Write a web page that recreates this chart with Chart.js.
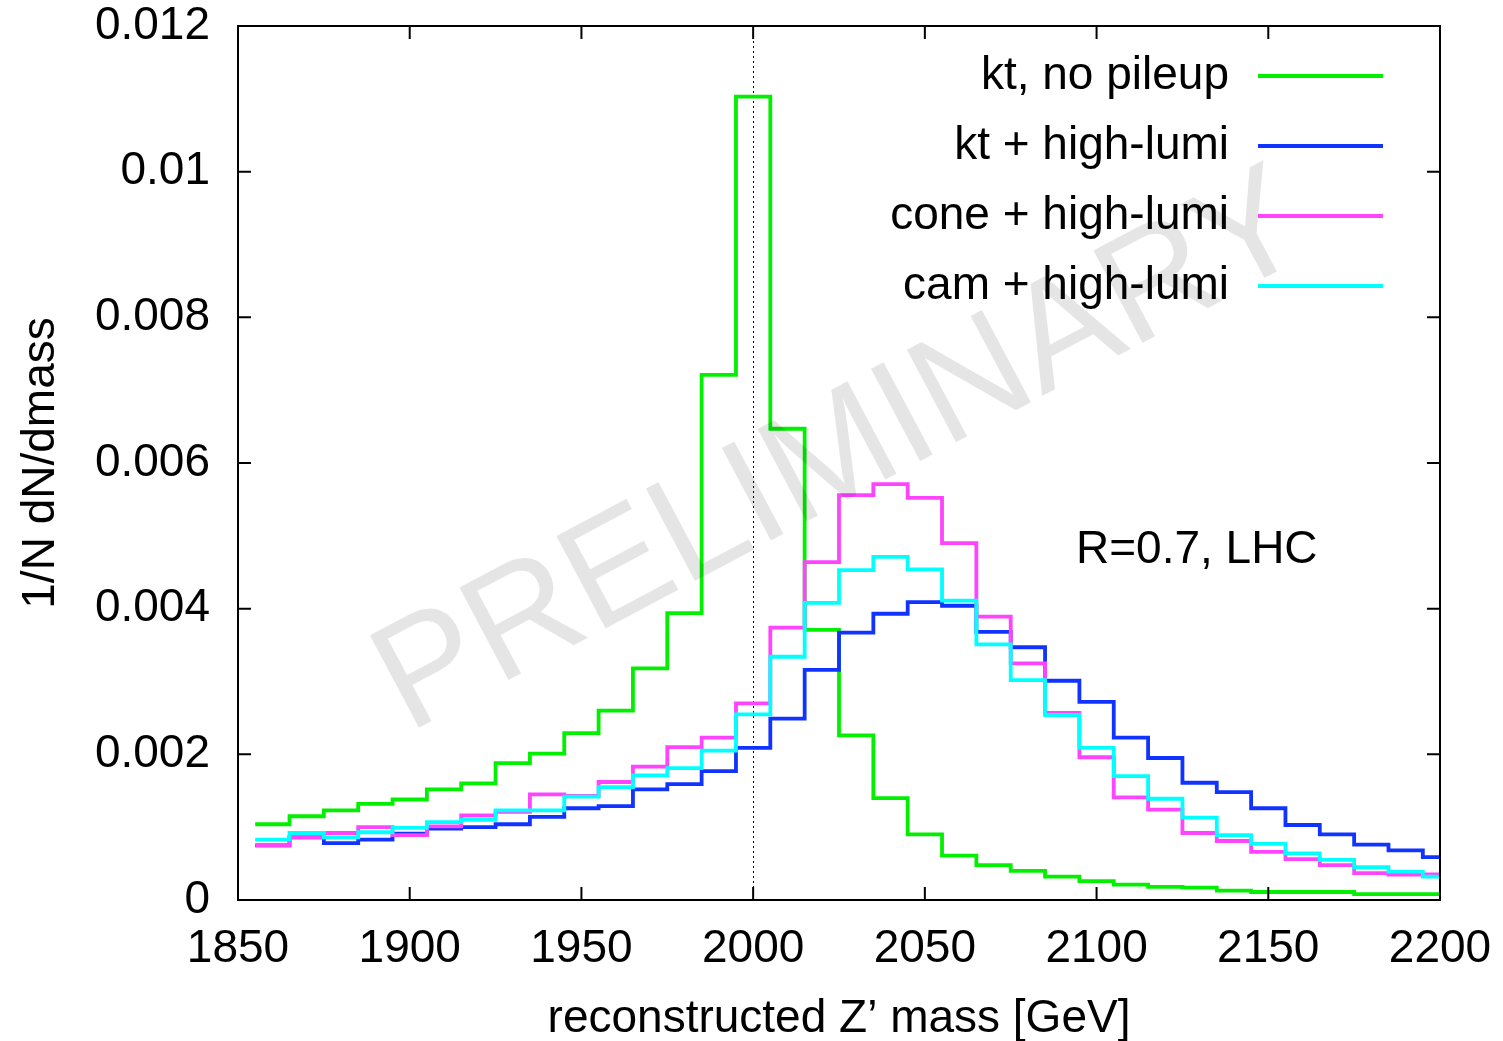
<!DOCTYPE html>
<html>
<head>
<meta charset="utf-8">
<script src="https://cdn.jsdelivr.net/npm/chart.js@4.4.1/dist/chart.umd.min.js"></script>
<style>
    body { margin: 0; background: #fff; }
    #wrap { width: 1503px; height: 1041px; position: relative; }
</style>
</head>
<body>
<div id="wrap"><canvas id="zmass"></canvas></div>
<script>
// bin edges of the histograms [GeV]
let binEdges = [1855, 1865, 1875, 1885, 1895, 1905, 1915, 1925, 1935, 1945,
                1955, 1965, 1975, 1985, 1995, 2005, 2015, 2025, 2035, 2045,
                2055, 2065, 2075, 2085, 2095, 2105, 2115, 2125, 2135, 2145,
                2155, 2165, 2175, 2185, 2195, 2205];

// 1/N dN/dmass per bin
let ktNoPileup = [0.00104, 0.00115, 0.00123, 0.00132, 0.00138, 0.00152, 0.00160, 0.00188, 0.00201, 0.00229,
                  0.00260, 0.00318, 0.00394, 0.00721, 0.01103, 0.00647, 0.00371, 0.00226, 0.00140, 0.00090,
                  0.00061, 0.00048, 0.00040, 0.00032, 0.00026, 0.00021, 0.00018, 0.00017, 0.00013, 0.00011,
                  0.00011, 0.00011, 0.00008, 0.00008, 0.00008];
let ktHighLumi = [0.00075, 0.00086, 0.00078, 0.00083, 0.00091, 0.00098, 0.00100, 0.00104, 0.00114, 0.00126,
                  0.00129, 0.00152, 0.00159, 0.00177, 0.00209, 0.00249, 0.00316, 0.00367, 0.00393, 0.00409,
                  0.00404, 0.00368, 0.00347, 0.00301, 0.00272, 0.00223, 0.00195, 0.00161, 0.00148, 0.00126,
                  0.00103, 0.00090, 0.00076, 0.00068, 0.00059];
let coneHighLumi = [0.00075, 0.00086, 0.00092, 0.00100, 0.00089, 0.00101, 0.00116, 0.00121, 0.00145, 0.00143,
                    0.00162, 0.00183, 0.00210, 0.00223, 0.00270, 0.00374, 0.00464, 0.00556, 0.00571, 0.00552,
                    0.00490, 0.00389, 0.00325, 0.00257, 0.00196, 0.00141, 0.00124, 0.00092, 0.00081, 0.00066,
                    0.00056, 0.00048, 0.00037, 0.00035, 0.00035];
let camHighLumi = [0.00083, 0.00092, 0.00086, 0.00093, 0.00099, 0.00107, 0.00110, 0.00123, 0.00123, 0.00142,
                   0.00155, 0.00171, 0.00181, 0.00205, 0.00255, 0.00334, 0.00408, 0.00453, 0.00471, 0.00454,
                   0.00411, 0.00351, 0.00302, 0.00254, 0.00209, 0.00170, 0.00139, 0.00113, 0.00089, 0.00077,
                   0.00064, 0.00055, 0.00045, 0.00039, 0.00032];

let seriesLabels = ['kt, no pileup', 'kt + high-lumi', 'cone + high-lumi', 'cam + high-lumi'];
let seriesColors = ['#00f000', '#1133ff', '#ff44ff', '#00ffff'];

let xTicks = [1850, 1900, 1950, 2000, 2050, 2100, 2150, 2200];
let yTicks = [0, 0.002, 0.004, 0.006, 0.008, 0.01, 0.012];
let nominalMass = 2000;
let noteText = 'R=0.7, LHC';
let notePos = {x: 2094, y: 0.0048};
let watermark = 'PRELIMINARY';

const FONT = '"Liberation Sans", Arial, Helvetica, sans-serif';

// histogram -> points at bin edges, drawn as steps
function histPoints(values) {
    let pts = [];
    for (let i = 0; i < binEdges.length; i++) {
        pts.push({x: binEdges[i], y: values[Math.min(i, values.length - 1)]});
    }
    return pts;
}

let allSeries = [ktNoPileup, ktHighLumi, coneHighLumi, camHighLumi];
let datasets = allSeries.map(function (vals, i) {
    return {
        label: seriesLabels[i],
        data: histPoints(vals),
        borderColor: seriesColors[i],
        backgroundColor: seriesColors[i],
        borderWidth: 3.8,
        pointRadius: 0,
        stepped: 'before',
        fill: false,
        order: allSeries.length - i   // later series on top
    };
});

let decorPlugin = {
    id: 'decor',
    beforeDatasetsDraw: function (chart) {
        let ctx = chart.ctx, a = chart.chartArea;
        let px = chart.scales.x.getPixelForValue(nominalMass);
        ctx.save();
        ctx.strokeStyle = '#000';
        ctx.lineWidth = 1;
        ctx.setLineDash([2, 3]);
        ctx.beginPath();
        ctx.moveTo(Math.round(px) + 0.5, a.top);
        ctx.lineTo(Math.round(px) + 0.5, a.bottom);
        ctx.stroke();
        ctx.restore();
    },
    afterDatasetsDraw: function (chart) {
        let ctx = chart.ctx, a = chart.chartArea;
        // watermark
        ctx.save();
        ctx.translate(a.left + 0.5025 * (a.right - a.left), a.top + 0.491 * (a.bottom - a.top));
        ctx.rotate(-28 * Math.PI / 180);
        ctx.font = '152px ' + FONT;
        ctx.fillStyle = 'rgba(0, 0, 0, 0.1)';
        ctx.textAlign = 'center';
        ctx.textBaseline = 'middle';
        ctx.fillText(watermark, 0, 0);
        ctx.restore();
    },
    afterDraw: function (chart) {
        let ctx = chart.ctx, a = chart.chartArea;
        let xs = chart.scales.x, ys = chart.scales.y;
        ctx.save();
        // frame
        ctx.strokeStyle = '#000';
        ctx.lineWidth = 2;
        ctx.strokeRect(a.left, a.top, a.right - a.left, a.bottom - a.top);
        // inward ticks on all four sides
        let tl = 13;
        ctx.beginPath();
        for (let t of xTicks) {
            let p = xs.getPixelForValue(t);
            ctx.moveTo(p, a.bottom); ctx.lineTo(p, a.bottom - tl);
            ctx.moveTo(p, a.top); ctx.lineTo(p, a.top + tl);
        }
        for (let t of yTicks) {
            let p = ys.getPixelForValue(t);
            ctx.moveTo(a.left, p); ctx.lineTo(a.left + tl, p);
            ctx.moveTo(a.right, p); ctx.lineTo(a.right - tl, p);
        }
        ctx.stroke();

        // legend: text right-aligned, sample line on the right
        ctx.font = '46px ' + FONT;
        ctx.fillStyle = '#000';
        ctx.textAlign = 'right';
        ctx.textBaseline = 'middle';
        chart.data.datasets.forEach(function (ds, i) {
            let yy = a.top + 50 + i * 70;
            ctx.fillText(ds.label, a.right - 211, yy);
            ctx.strokeStyle = ds.borderColor;
            ctx.lineWidth = 3.8;
            ctx.beginPath();
            ctx.moveTo(a.right - 182, yy);
            ctx.lineTo(a.right - 57, yy);
            ctx.stroke();
        });

        // annotation
        ctx.textAlign = 'left';
        ctx.fillText(noteText, xs.getPixelForValue(notePos.x), ys.getPixelForValue(notePos.y));
        ctx.restore();
    }
};

let ctx = document.getElementById('zmass').getContext('2d');
let chart = new Chart(ctx, {
    type: 'line',
    data: {datasets: datasets},
    options: {
        responsive: true,
        maintainAspectRatio: false,
        animation: false,
        events: [],
        layout: {padding: {top: 26, right: 63, left: 0, bottom: 0}},
        plugins: {
            legend: {display: false},
            tooltip: {enabled: false}
        },
        scales: {
            x: {
                type: 'linear',
                min: 1850,
                max: 2200,
                grid: {display: false, drawTicks: false},
                border: {display: false},
                afterBuildTicks: function (scale) {
                    scale.ticks = xTicks.map(function (v) { return {value: v}; });
                },
                ticks: {
                    autoSkip: false,
                    maxRotation: 0,
                    padding: 22,
                    color: '#000',
                    font: {family: FONT, size: 46},
                    callback: function (v) { return String(v); }
                },
                title: {
                    display: true,
                    text: 'reconstructed Z\u2019 mass [GeV]',
                    color: '#000',
                    font: {family: FONT, size: 46, lineHeight: 0.95},
                    padding: {top: 0, bottom: 0}
                },
                afterFit: function (scale) {
                    scale.height = 141;
                    scale.paddingLeft = 0;
                    scale.paddingRight = 0;
                }
            },
            y: {
                type: 'linear',
                min: 0,
                max: 0.012,
                grid: {display: false, drawTicks: false},
                border: {display: false},
                afterBuildTicks: function (scale) {
                    scale.ticks = yTicks.map(function (v) { return {value: v}; });
                },
                ticks: {
                    padding: 28,
                    color: '#000',
                    font: {family: FONT, size: 46},
                    callback: function (v) { return String(+v.toFixed(4)); }
                },
                title: {
                    display: true,
                    text: '1/N dN/dmass',
                    color: '#000',
                    font: {family: FONT, size: 46, lineHeight: 1.0},
                    padding: {top: 18, bottom: 0}
                },
                afterFit: function (scale) {
                    scale.width = 238;
                    scale.paddingTop = 0;
                    scale.paddingBottom = 0;
                }
            }
        }
    },
    plugins: [decorPlugin]
});
</script>
</body>
</html>
